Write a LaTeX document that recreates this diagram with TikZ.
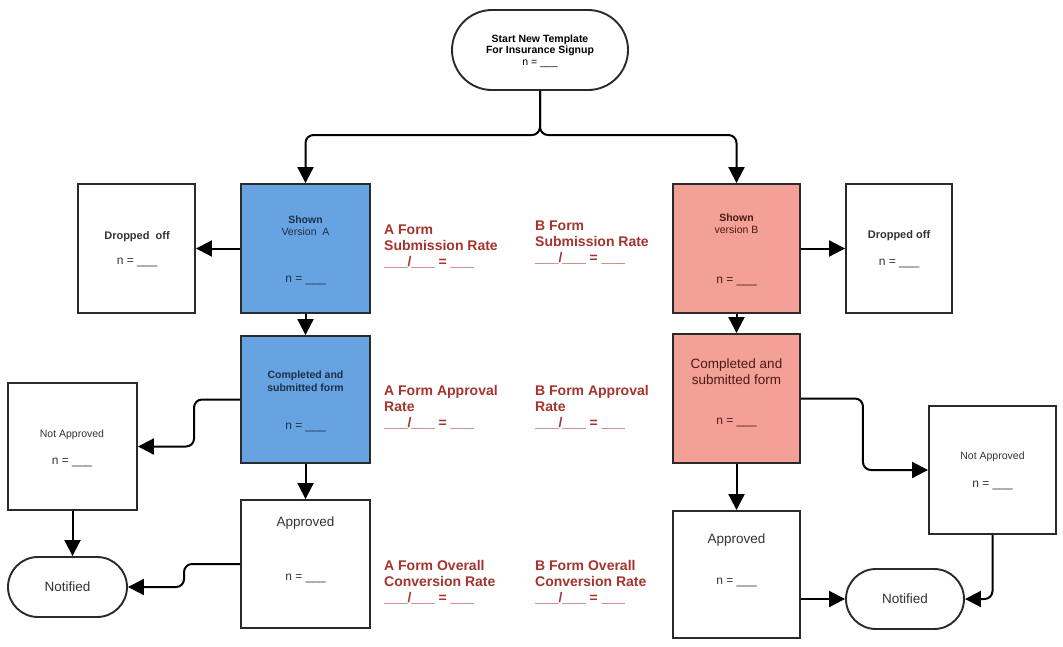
\documentclass[tikz,border=0pt]{standalone}
\usepackage{fontspec}
\setmainfont{Liberation Sans}
\usetikzlibrary{arrows.meta,shapes.misc}
\definecolor{blueF}{HTML}{66A3E0}
\definecolor{pinkF}{HTML}{F3A096}
\definecolor{boxline}{HTML}{2A2A2A}
\definecolor{labred}{HTML}{A3342E}
\definecolor{navytxt}{HTML}{1C2F4A}
\definecolor{redtxt}{HTML}{4A1A14}
\definecolor{graytxt}{HTML}{333333}
\begin{document}
\begin{tikzpicture}[x=1pt,y=-1pt,
  box/.style={draw=boxline, line width=1.9pt, rectangle, inner sep=0pt},
  term/.style={draw=boxline, line width=1.9pt, rounded rectangle, inner sep=0pt},
  txt/.style={inner sep=0pt, align=center, text=graytxt},
  lab/.style={inner sep=0pt, align=left, anchor=north west, text=labred, font=\bfseries\fontsize{14}{16}\selectfont},
  conn/.style={draw=black, line width=2pt, rounded corners=8pt, -{Triangle[length=16pt,width=16pt]}},
  small/.style={font=\fontsize{10.5}{12}\selectfont},
  smallb/.style={font=\bfseries\fontsize{10.5}{12}\selectfont},
  mid/.style={font=\fontsize{12}{14}\selectfont},
  big/.style={font=\fontsize{13.5}{16}\selectfont}
]
\useasboundingbox (0,0) rectangle (1063,646);
\fill[white] (0,0) rectangle (1063,646);

% ---- boxes ----
\node[term, minimum width=176pt, minimum height=80pt] (start) at (540,50) {};
\node[box, fill=blueF, minimum width=129pt, minimum height=129pt] (showA) at (305.5,248.5) {};
\node[box, minimum width=117pt, minimum height=129pt] (dropA) at (136.5,248.5) {};
\node[box, fill=blueF, minimum width=129pt, minimum height=127pt] (compA) at (305.5,399.5) {};
\node[box, minimum width=129pt, minimum height=127pt] (notA) at (72.5,446.5) {};
\node[box, minimum width=129pt, minimum height=128pt] (appA) at (305.5,564) {};
\node[term, minimum width=119pt, minimum height=60pt] (notifA) at (67.5,587) {};

\node[box, fill=pinkF, minimum width=127pt, minimum height=129pt] (showB) at (736.5,248.5) {};
\node[box, minimum width=106pt, minimum height=129pt] (dropB) at (899,248.5) {};
\node[box, fill=pinkF, minimum width=127pt, minimum height=129pt] (compB) at (736.5,398.5) {};
\node[box, minimum width=127pt, minimum height=128pt] (notB) at (992.5,470) {};
\node[box, minimum width=127pt, minimum height=127pt] (appB) at (736.5,574.5) {};
\node[term, minimum width=118pt, minimum height=60pt] (notifB) at (905,599) {};

% ---- texts in boxes ----
\node[txt, align=center, font=\bfseries\fontsize{10.5}{11.5}\selectfont, text=black] (tstart) at (540,51)
  {Start New Template\\For Insurance Signup\\{\mdseries n = \_\_\_}};

\node[txt, smallb, text=navytxt] (tshowA1) at (305.5,220) {Shown};
\node[txt, small, text=navytxt] (tshowA2) at (305.5,232) {Version\ \ A};
\node[txt, mid, text=navytxt] (tshowAn) at (305.5,280) {n = \_\_\_};

\node[txt, font=\bfseries\fontsize{11}{13}\selectfont] (tdropA) at (137,237) {Dropped\ \ off};
\node[txt, mid] (tdropAn) at (137,262) {n = \_\_\_};

\node[txt, font=\bfseries\fontsize{10.5}{12.5}\selectfont, text=navytxt] (tcompA) at (305.5,381) {Completed and\\submitted form};
\node[txt, mid, text=navytxt] (tcompAn) at (305.5,427) {n = \_\_\_};

\node[txt, small] (tnotA) at (72,435) {Not Approved};
\node[txt, mid] (tnotAn) at (72,462) {n = \_\_\_};

\node[txt, big] (tappA) at (305.5,523) {Approved};
\node[txt, mid] (tappAn) at (305.5,578) {n = \_\_\_};

\node[txt, big] (tnotifA) at (67.5,587) {Notified};

\node[txt, smallb, text=redtxt] (tshowB1) at (736.5,218) {Shown};
\node[txt, small, text=redtxt] (tshowB2) at (736.5,230) {version B};
\node[txt, mid, text=redtxt] (tshowBn) at (736.5,281) {n = \_\_\_};

\node[txt, font=\bfseries\fontsize{11}{13}\selectfont] (tdropB) at (899,236) {Dropped off};
\node[txt, mid] (tdropBn) at (899,263) {n = \_\_\_};

\node[txt, font=\fontsize{13.5}{16}\selectfont, text=redtxt] (tcompB) at (736.5,372) {Completed and\\submitted form};
\node[txt, mid, text=redtxt] (tcompBn) at (736.5,422) {n = \_\_\_};

\node[txt, small] (tnotB) at (992.5,457) {Not Approved};
\node[txt, mid] (tnotBn) at (992.5,485) {n = \_\_\_};

\node[txt, big] (tappB) at (736.5,540) {Approved};
\node[txt, mid] (tappBn) at (736.5,582) {n = \_\_\_};

\node[txt, big] (tnotifB) at (905,599) {Notified};

% ---- red rate labels ----
\node[lab] (rA1) at (384,225) {A Form\\Submission Rate\\\_\_\_/\_\_\_ = \_\_\_};
\node[lab] (rB1) at (535,221) {B Form\\Submission Rate\\\_\_\_/\_\_\_ = \_\_\_};
\node[lab] (rA2) at (384,385) {A Form Approval\\Rate\\\_\_\_/\_\_\_ = \_\_\_};
\node[lab] (rB2) at (535,385) {B Form Approval\\Rate\\\_\_\_/\_\_\_ = \_\_\_};
\node[lab] (rA3) at (384,560) {A Form Overall\\Conversion Rate\\\_\_\_/\_\_\_ = \_\_\_};
\node[lab] (rB3) at (535,560) {B Form Overall\\Conversion Rate\\\_\_\_/\_\_\_ = \_\_\_};

% ---- connectors ----
\coordinate (split) at (540,135);
\draw[conn] (start.south) -- (split) -| (showA.north);
\draw[conn] (start.south) -- (split) -| (showB.north);

\draw[conn] (showA.west) -- (dropA.east);
\draw[conn] (showA.south) -- (compA.north);
\draw[conn] (compA.west) -- ++(-46,0) |- (notA.east);
\draw[conn] (compA.south) -- (appA.north);
\draw[conn] (notA.south) -- (notA.south |- notifA.north);
\draw[conn] (appA.west) -- ++(-56,0) |- (notifA.east);

\draw[conn] (showB.east) -- (dropB.west);
\draw[conn] (showB.south) -- (compB.north);
\draw[conn] (compB.east) -- ++(62,0) |- (notB.west);
\draw[conn] (compB.south) -- (appB.north);
\draw[conn] (appB.east |- notifB.west) -- (notifB.west);
\draw[conn] (notB.south) |- (notifB.east);
\end{tikzpicture}
\end{document}
